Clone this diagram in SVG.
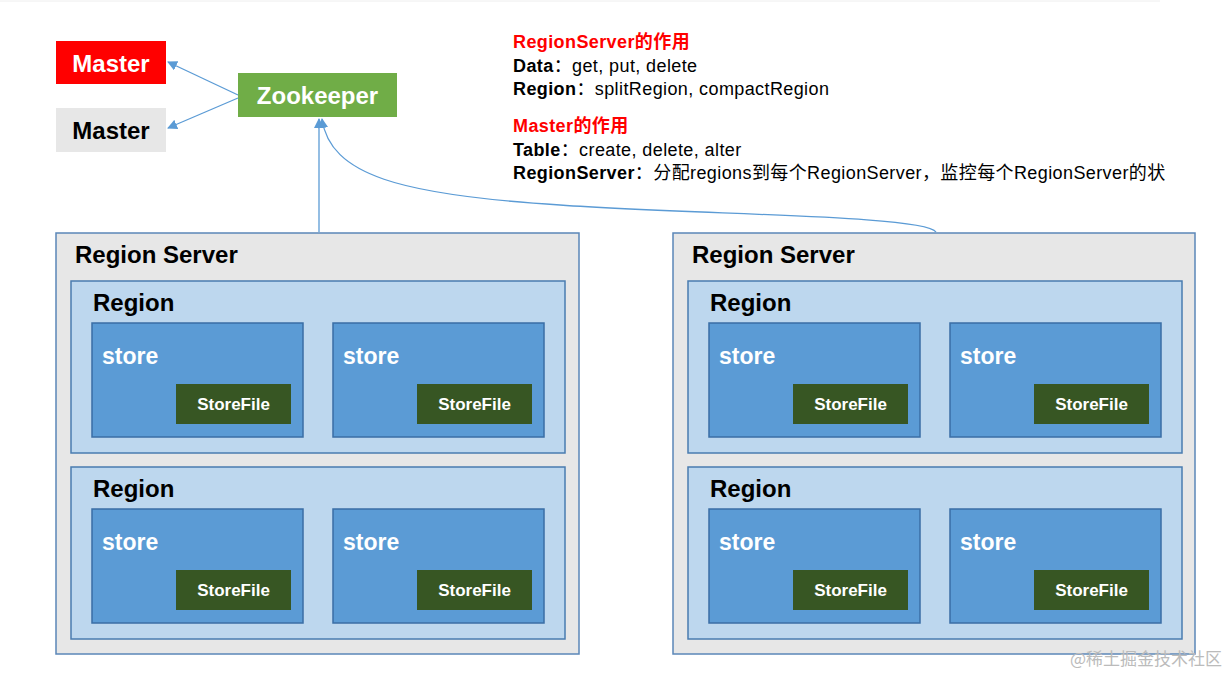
<svg xmlns="http://www.w3.org/2000/svg" width="1227" height="675" viewBox="0 0 1227 675">
<style>
text{font-family:"Liberation Sans",Arial,sans-serif;font-weight:bold}
.rs{fill:#e7e7e7;stroke:#5b87b8;stroke-width:1.5}
.rg{fill:#bdd7ee;stroke:#4a7cb0;stroke-width:1.5}
.st{fill:#5b9bd5;stroke:#3a6ea5;stroke-width:1.5}
.sf{fill:#375623}
.t1{font-size:24px;fill:#000}
.t2{font-size:23px;fill:#fff}
.t3{font-size:17px;fill:#fff}
.c{fill:none;stroke:#5b9bd5;stroke-width:1.3}
.n{font-size:18px;font-weight:normal;letter-spacing:0.4px}
.b{font-size:18px;letter-spacing:0.4px}
</style>
<defs><marker id="a" markerWidth="10" markerHeight="10" refX="9" refY="5" orient="auto" markerUnits="userSpaceOnUse"><path d="M0,0L10,5L0,10z" fill="#5b9bd5"/></marker>
<g id="store"><rect class="st" x="0" y="0" width="211" height="114"/><text class="t2" x="10" y="41">store</text><rect class="sf" x="84" y="61" width="115" height="40"/><text class="t3" x="141.5" y="87" text-anchor="middle">StoreFile</text></g>
<g id="region"><rect class="rg" x="0" y="0" width="494" height="172"/><text class="t1" x="22" y="30">Region</text><use href="#store" x="21" y="42"/><use href="#store" x="262" y="42"/></g>
</defs>
<line x1="0" y1="1" x2="1160" y2="1" stroke="#eee"/>
<g id="master1"><rect x="56" y="41" width="110" height="43" fill="#ff0000"/><text x="111" y="72" text-anchor="middle" class="t2" style="font-size:24px">Master</text></g>
<g id="master2"><rect x="56" y="108" width="110" height="44" fill="#e7e7e7"/><text x="111" y="139" text-anchor="middle" class="t1">Master</text></g>
<g id="zookeeper"><rect x="238" y="73" width="159" height="44" fill="#70ad47"/><text x="317.5" y="104" text-anchor="middle" class="t2" style="font-size:24px">Zookeeper</text></g>
<g id="rs1"><rect class="rs" x="56" y="233" width="523" height="421"/><text class="t1" x="75" y="263">Region Server</text><use href="#region" x="71" y="281"/><use href="#region" x="71" y="467"/></g>
<g id="rs2"><rect class="rs" x="673" y="233" width="522" height="421"/><text class="t1" x="692" y="263">Region Server</text><use href="#region" x="688" y="281"/><use href="#region" x="688" y="467"/></g>
<g id="connectors">
<line class="c" x1="238" y1="95" x2="168" y2="62" marker-end="url(#a)"/>
<line class="c" x1="238" y1="98" x2="168" y2="128" marker-end="url(#a)"/>
<line class="c" x1="319" y1="232" x2="319" y2="119" marker-end="url(#a)"/>
<path class="c" d="M936,232 C925,215 700,215 560,205 C400,195 330,175 322,119" marker-end="url(#a)"/>
</g>
<g id="notes">
<text x="513" y="48" class="b" fill="#ff0000">RegionServer<tspan font-family="Noto Sans CJK SC,sans-serif">的作用</tspan></text>
<text x="513" y="72" class="b">Data<tspan class="n" font-family="Noto Sans CJK SC,sans-serif">：</tspan><tspan class="n">get, put, delete</tspan></text>
<text x="513" y="95" class="b">Region<tspan class="n" font-family="Noto Sans CJK SC,sans-serif">：</tspan><tspan class="n">splitRegion, compactRegion</tspan></text>
<text x="513" y="132" class="b" fill="#ff0000">Master<tspan font-family="Noto Sans CJK SC,sans-serif">的作用</tspan></text>
<text x="513" y="156" class="b">Table<tspan class="n" font-family="Noto Sans CJK SC,sans-serif">：</tspan><tspan class="n">create, delete, alter</tspan></text>
<text x="513" y="179" class="b">RegionServer<tspan class="n" style="font-family:'Liberation Sans','Noto Sans CJK SC',sans-serif">：分配regions到每个RegionServer，监控每个RegionServer的状</tspan></text>
</g>
<text x="1222" y="665" text-anchor="end" style="font-weight:normal;font-size:17px;font-family:'Noto Sans CJK SC',sans-serif" fill="#bbb">@稀土掘金技术社区</text>
</svg>
